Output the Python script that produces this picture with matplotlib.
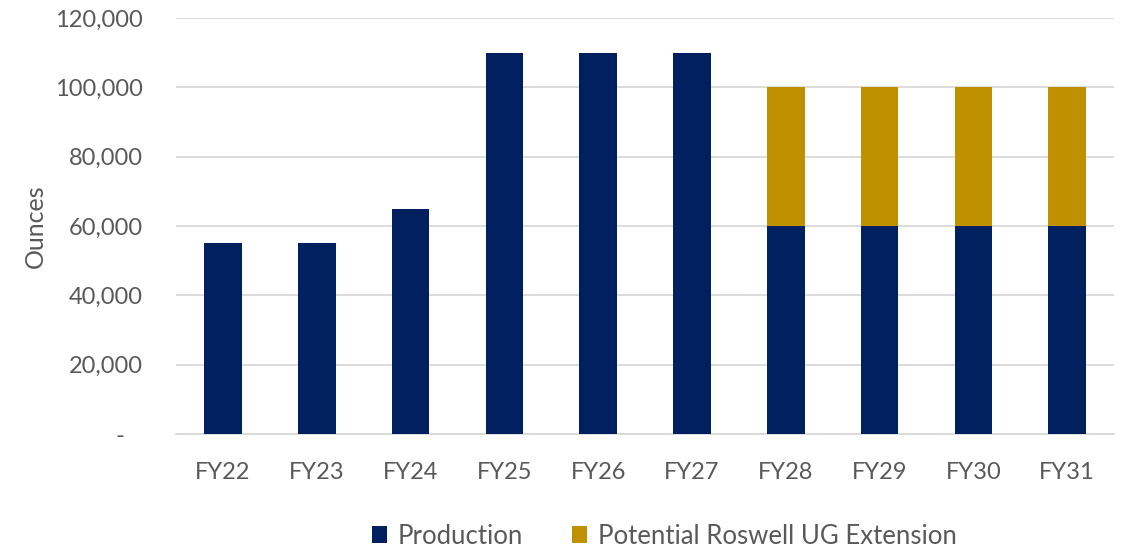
"""
Roswell production profile chart: stacked bars, FY22-FY31.
"""

import matplotlib

matplotlib.use("Agg")

import matplotlib.pyplot as plt
from matplotlib.patches import Patch
from matplotlib.ticker import FuncFormatter

# data
years = ["FY22", "FY23", "FY24", "FY25", "FY26", "FY27", "FY28", "FY29", "FY30", "FY31"]
production = [55000, 55000, 65000, 110000, 110000, 110000, 60000, 60000, 60000, 60000]
roswell_ug = [0, 0, 0, 0, 0, 0, 40000, 40000, 40000, 40000]
y_ticks = [0, 20000, 40000, 60000, 80000, 100000, 120000]

NAVY = "#002060"
GOLD = "#BF9000"
TEXT = "#595959"
GRID = "#D9D9D9"


def fmt_ounces(v, _pos):
    # Excel accounting style: zero shows as a dash
    if v == 0:
        return "-   "
    return f"{v:,.0f}"


def main() -> None:
    plt.rcParams["font.family"] = ["Lato", "DejaVu Sans"]

    fig = plt.figure(figsize=(11.22, 5.51), dpi=100)
    ax = fig.add_axes([0.157, 0.2123, 0.836, 0.7550])

    x = range(len(years))
    ax.bar(x, production, width=0.40, color=NAVY, zorder=3)
    ax.bar(x, roswell_ug, width=0.40, bottom=production, color=GOLD, zorder=3)

    ax.set_xlim(-0.5, len(years) - 0.5)
    ax.set_ylim(0, 120000)
    ax.set_yticks(y_ticks)
    ax.yaxis.set_major_formatter(FuncFormatter(fmt_ounces))
    ax.set_xticks(list(x))
    ax.set_xticklabels(years)

    ax.grid(True, axis="y", color=GRID, linewidth=1.3, zorder=0)
    for side in ["top", "right", "left"]:
        ax.spines[side].set_visible(False)
    ax.spines["bottom"].set_color(GRID)
    ax.spines["bottom"].set_linewidth(1.3)

    ax.tick_params(axis="both", length=0, labelsize=17, colors=TEXT)
    ax.tick_params(axis="y", pad=24)
    ax.tick_params(axis="x", pad=20)

    ax.set_ylabel("Ounces", fontsize=18, color=TEXT, labelpad=6)

    handles = [
        Patch(facecolor=NAVY, label="Production"),
        Patch(facecolor=GOLD, label="Potential Roswell UG Extension"),
    ]
    fig.legend(
        handles=handles,
        loc="center",
        bbox_to_anchor=(0.592, 0.027),
        ncol=2,
        frameon=False,
        fontsize=18.5,
        labelcolor=TEXT,
        handlelength=0.6,
        handleheight=0.6,
        handletextpad=0.4,
        columnspacing=1.9,
    )

    fig.savefig("out.png", dpi=100)
    plt.close(fig)


if __name__ == "__main__":
    main()
